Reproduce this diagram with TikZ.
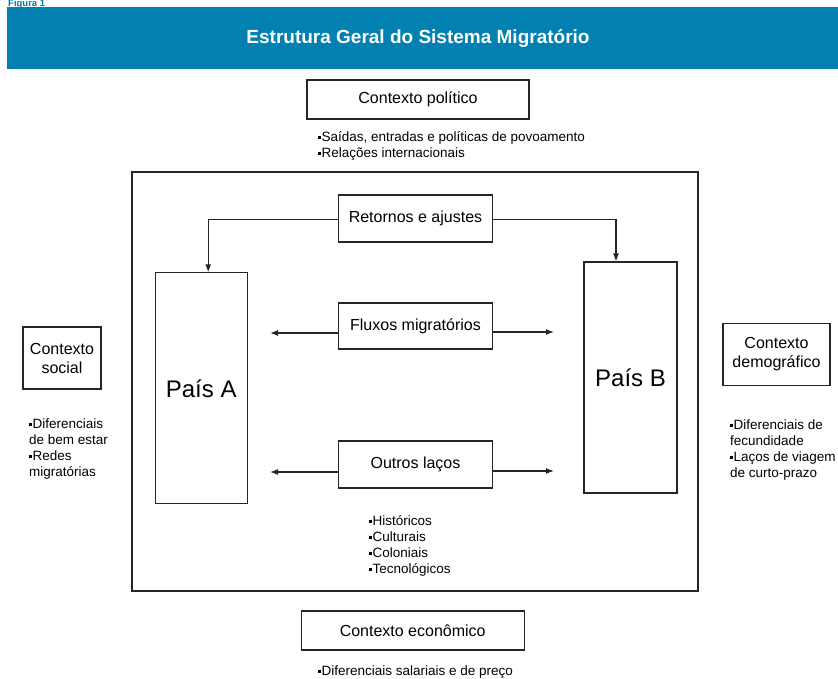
\documentclass[tikz,border=0pt]{standalone}
\usepackage{fontspec}
\setmainfont{Liberation Sans}
\usetikzlibrary{arrows.meta,calc}
\definecolor{barblue}{HTML}{0280B1}
\newcommand{\bul}{\raisebox{2.6pt}{\rule{2.8pt}{2.8pt}}\kern0.6pt}
\begin{document}
\begin{tikzpicture}[x=1pt,y=-1pt,
  box/.style={draw=black!85,line width=1.1pt,inner sep=0pt,align=center,
    font=\fontsize{16}{19}\selectfont},
  pais/.style={draw=black!85,line width=1.1pt,inner sep=0pt,
    minimum width=92pt,minimum height=231pt,font=\fontsize{24}{28}\selectfont},
  blist/.style={anchor=north west,inner sep=0pt,align=left,
    font=\fontsize{13.5}{16}\selectfont},
  arr/.style={line width=1.1pt,draw=black!85,-{Latex[length=8pt,width=6pt]}},
  ln/.style={line width=1.1pt,draw=black!85}]
\useasboundingbox (0,0) rectangle (838,679);
\fill[white] (0,0) rectangle (838,679);
% title bar
\node[anchor=base west,inner sep=0pt,text=barblue,font=\fontsize{9.5}{11}\bfseries\selectfont] (fig) at (8,6.6) {Figura 1};
\fill[barblue] (7,7) rectangle (838,69.5);
\node[text=white,font=\fontsize{19}{22}\bfseries\selectfont,inner sep=0pt] (title) at (418,39) {Estrutura Geral do Sistema Migratório};
% outer frame
\node[draw=black!85,line width=1.2pt,minimum width=566pt,minimum height=419pt,inner sep=0pt] (frame) at (415,381.5) {};
% context boxes
\node[box,minimum width=222pt,minimum height=39pt] (polit) at (418,99.5) {Contexto político};
\node[blist] (politb) at (318,130) {\strut\bul Saídas, entradas e políticas de povoamento\\\bul Relações internacionais};
\node[box,minimum width=78pt,minimum height=62pt] (social) at (62,358) {Contexto\\social};
\node[blist] (socialb) at (29,416.7) {\strut\bul Diferenciais\\de bem estar\\\bul Redes\\migratórias};
\node[box,minimum width=107pt,minimum height=62pt] (demog) at (776.5,354.5) {Contexto\\demográfico};
\node[blist] (demogb) at (730,418.2) {\strut\bul Diferenciais de\\fecundidade\\\bul Laços de viagem\\de curto-prazo};
\node[box,minimum width=223pt,minimum height=39pt] (econ) at (412.7,630.5) {Contexto econômico};
\node[blist] (econb) at (318,664.4) {\strut\bul Diferenciais salariais e de preço};
% inner boxes
\node[box,minimum width=154pt,minimum height=47pt] (ret) at (415.5,218.5) {Retornos e ajustes};
\node[box,minimum width=154pt,minimum height=46pt] (flux) at (415.5,326) {Fluxos migratórios};
\node[box,minimum width=154pt,minimum height=47pt] (outros) at (415.5,464.5) {Outros laços};
\node[blist] (outrosb) at (369,514) {\strut\bul Históricos\\\bul Culturais\\\bul Coloniais\\\bul Tecnológicos};
\node[pais] (paisA) at (201.2,388.3) {País A};
\node[pais,minimum width=93pt] (paisB) at (630.5,377.5) {País B};
% connectors
\coordinate (fluxL) at (270,333);
\coordinate (fluxR) at (554,332);
\coordinate (outL) at (270,472);
\coordinate (outR) at (554,471);
\draw[arr] ([yshift=-1pt]ret.west) -| ([xshift=7pt]paisA.north);
\draw[arr] ([yshift=-1pt]ret.east) -| ([xshift=-14.5pt]paisB.north);
\draw[arr] (flux.west |- fluxL) -- (fluxL);
\draw[arr] (flux.east |- fluxR) -- (fluxR);
\draw[arr] (outros.west |- outL) -- (outL);
\draw[arr] (outros.east |- outR) -- (outR);
\end{tikzpicture}
\end{document}
